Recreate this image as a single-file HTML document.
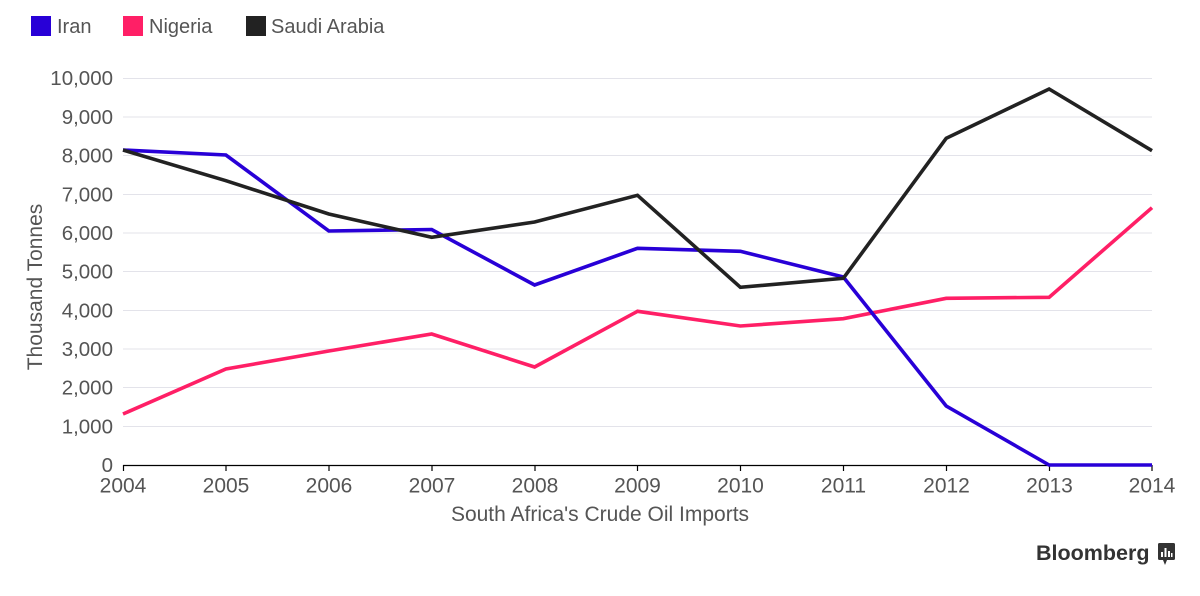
<!DOCTYPE html>
<html>
<head>
<meta charset="utf-8">
<style>
  html,body{margin:0;padding:0;background:#fff;}
  body{width:1200px;height:591px;overflow:hidden;font-family:"Liberation Sans",Arial,sans-serif;}
  svg text{font-family:"Liberation Sans",Arial,sans-serif;}
</style>
</head>
<body>
<svg width="1200" height="591" viewBox="0 0 1200 591" xmlns="http://www.w3.org/2000/svg">
  <rect width="1200" height="591" fill="#fff"/>
  <!-- Legend -->
  <rect x="31" y="16" width="20" height="20" fill="#2800d7"/>
  <text x="57" y="33" font-size="20" fill="#555">Iran</text>
  <rect x="123" y="16" width="20" height="20" fill="#ff1f66"/>
  <text x="149" y="33" font-size="20" fill="#555">Nigeria</text>
  <rect x="246" y="16" width="20" height="20" fill="#222"/>
  <text x="271" y="33" font-size="20" fill="#555">Saudi Arabia</text>

  <!-- Gridlines -->
  <g stroke="#e3e3ea" stroke-width="1">
    <line x1="123" x2="1152" y1="78.5" y2="78.5"/>
    <line x1="123" x2="1152" y1="117" y2="117"/>
    <line x1="123" x2="1152" y1="155.5" y2="155.5"/>
    <line x1="123" x2="1152" y1="194.5" y2="194.5"/>
    <line x1="123" x2="1152" y1="233" y2="233"/>
    <line x1="123" x2="1152" y1="271.5" y2="271.5"/>
    <line x1="123" x2="1152" y1="310.5" y2="310.5"/>
    <line x1="123" x2="1152" y1="349" y2="349"/>
    <line x1="123" x2="1152" y1="387.5" y2="387.5"/>
    <line x1="123" x2="1152" y1="426.5" y2="426.5"/>
  </g>

  <!-- Y tick labels -->
  <g font-size="20.5" fill="#555" text-anchor="end">
    <text x="113" y="85">10,000</text>
    <text x="113" y="124">9,000</text>
    <text x="113" y="162.5">8,000</text>
    <text x="113" y="201.5">7,000</text>
    <text x="113" y="240">6,000</text>
    <text x="113" y="278.5">5,000</text>
    <text x="113" y="317.5">4,000</text>
    <text x="113" y="356">3,000</text>
    <text x="113" y="394.5">2,000</text>
    <text x="113" y="433.5">1,000</text>
    <text x="113" y="472">0</text>
  </g>

  <!-- Y axis title -->
  <text x="0" y="0" font-size="21" fill="#555" text-anchor="middle" transform="translate(42,287) rotate(-90)">Thousand Tonnes</text>

  <!-- X axis -->
  <line x1="123" x2="1152" y1="465.5" y2="465.5" stroke="#000" stroke-width="1.2"/>
  <g stroke="#000" stroke-width="1.2">
    <line x1="123.5" x2="123.5" y1="465" y2="471"/>
    <line x1="226" x2="226" y1="465" y2="471"/>
    <line x1="329" x2="329" y1="465" y2="471"/>
    <line x1="432" x2="432" y1="465" y2="471"/>
    <line x1="535" x2="535" y1="465" y2="471"/>
    <line x1="637.5" x2="637.5" y1="465" y2="471"/>
    <line x1="740.5" x2="740.5" y1="465" y2="471"/>
    <line x1="843.5" x2="843.5" y1="465" y2="471"/>
    <line x1="946.5" x2="946.5" y1="465" y2="471"/>
    <line x1="1049.5" x2="1049.5" y1="465" y2="471"/>
    <line x1="1152" x2="1152" y1="465" y2="471"/>
  </g>
  <g font-size="21" fill="#555" text-anchor="middle">
    <text x="123" y="492.5">2004</text>
    <text x="226" y="492.5">2005</text>
    <text x="329" y="492.5">2006</text>
    <text x="432" y="492.5">2007</text>
    <text x="535" y="492.5">2008</text>
    <text x="637.5" y="492.5">2009</text>
    <text x="740.5" y="492.5">2010</text>
    <text x="843.5" y="492.5">2011</text>
    <text x="946.5" y="492.5">2012</text>
    <text x="1049.5" y="492.5">2013</text>
    <text x="1152" y="492.5">2014</text>
  </g>
  <text x="600" y="521" font-size="21" fill="#555" text-anchor="middle">South Africa's Crude Oil Imports</text>

  <!-- Series -->
  <g fill="none" stroke-width="3.6" stroke-linejoin="miter" stroke-linecap="butt">
    <polyline stroke="#ff1f66" points="123,414 225.9,369 328.8,351 431.7,334 534.6,367 637.5,311.3 740.4,326 843.3,318.7 946.2,298.3 1049.1,297.3 1152,207.7"/>
    <polyline stroke="#2800d7" points="123,150 225.9,155 328.8,231 431.7,229.5 534.6,285 637.5,248.3 740.4,251.3 843.3,277 946.2,406 1049.1,465 1152,465"/>
    <polyline stroke="#222" points="123,150 225.9,180.7 328.8,214 431.7,237.3 534.6,222 637.5,195.3 740.4,287.3 843.3,278.3 946.2,138.3 1049.1,89 1152,150.7"/>
  </g>

  <!-- Bloomberg logo -->
  <text x="1036" y="560" font-size="21.5" font-weight="bold" fill="#333">Bloomberg</text>
  <g>
    <rect x="1158" y="543" width="17" height="17" rx="1.5" fill="#333"/>
    <polygon points="1163,560 1167,560 1165,565" fill="#333"/>
    <rect x="1161" y="552" width="2" height="5" fill="#fff"/>
    <rect x="1164.5" y="548" width="2" height="9" fill="#fff"/>
    <rect x="1168" y="551" width="2" height="6" fill="#fff"/>
    <rect x="1171" y="553" width="1.5" height="4" fill="#fff"/>
  </g>
</svg>
</body>
</html>
